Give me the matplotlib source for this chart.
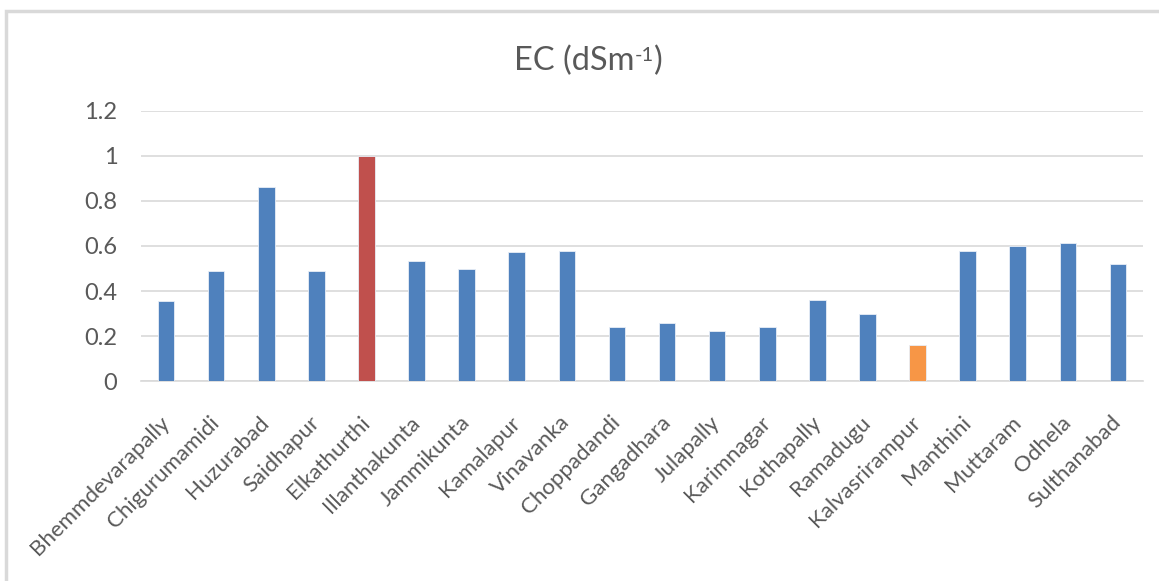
import numpy as np
import matplotlib.pyplot as plt
import matplotlib.transforms as mtransforms
from matplotlib.patches import Rectangle

# EC values for each mandal
mandals = ['Bhemmdevarapally', 'Chigurumamidi', 'Huzurabad', 'Saidhapur', 'Elkathurthi',
           'Illanthakunta', 'Jammikunta', 'Kamalapur', 'Vinavanka', 'Choppadandi',
           'Gangadhara', 'Julapally', 'Karimnagar', 'Kothapally', 'Ramadugu',
           'Kalvasrirampur', 'Manthini', 'Muttaram', 'Odhela', 'Sulthanabad']
ec = [0.355, 0.49, 0.86, 0.49, 1.0,
      0.535, 0.50, 0.575, 0.58, 0.24,
      0.257, 0.225, 0.24, 0.36, 0.297,
      0.162, 0.58, 0.60, 0.615, 0.52]
yticks = [0, 0.2, 0.4, 0.6, 0.8, 1, 1.2]
ytick_labels = ['0', '0.2', '0.4', '0.6', '0.8', '1', '1.2']

BLUE = '#4F81BD'
RED = '#C0504D'
ORANGE = '#F79646'
GRID = '#D9D9D9'
TEXT = '#595959'

# highest value in red, lowest in orange
colors = [BLUE] * len(ec)
colors[int(np.argmax(ec))] = RED
colors[int(np.argmin(ec))] = ORANGE

plt.rcParams['font.family'] = ['Lato', 'DejaVu Sans']

W, H = 1159, 581
fig = plt.figure(figsize=(W / 100, H / 100), dpi=100)
fig.patch.set_facecolor('white')

# chart border (top and left edges visible)
fig.add_artist(Rectangle((6 / W, -0.1), 1.2, (H - 11) / H + 0.1,
                         transform=fig.transFigure, fill=False,
                         edgecolor='#D9D9D9', linewidth=2.5))

ax = fig.add_axes([141 / W, 1 - 381.3 / H, 1002 / W, 270.6 / H])
x = np.arange(len(mandals))
ax.bar(x, ec, width=0.33, color=colors, edgecolor='#E8EEF7', linewidth=0.6, zorder=3)

ax.set_xlim(-0.5, len(mandals) - 0.5)
ax.set_ylim(0, 1.2)
ax.set_yticks(yticks)
ax.set_yticklabels(ytick_labels)
ax.yaxis.grid(True, color=GRID, linewidth=1.2, zorder=0)
ax.set_axisbelow(True)

for side in ['top', 'right', 'left']:
    ax.spines[side].set_visible(False)
ax.spines['bottom'].set_color(GRID)
ax.spines['bottom'].set_linewidth(1.2)

ax.tick_params(axis='y', length=0, pad=17, labelsize=17, labelcolor=TEXT)
ax.tick_params(axis='x', length=0, pad=0, labelsize=16, labelcolor=TEXT)

ax.set_xticks(x)
ax.set_xticklabels(mandals, rotation=45, ha='right', va='center', rotation_mode='anchor')
offset = mtransforms.ScaledTranslation(0, -38 / 100, fig.dpi_scale_trans)
for lbl in ax.get_xticklabels():
    lbl.set_transform(lbl.get_transform() + offset)

# title with a raised "-1"
title_size = 23.5
renderer = fig.canvas.get_renderer()
parts = [('EC (dSm', title_size, 0), ('-1', title_size * 0.62, 9), (')', title_size, 0)]
texts = []
for s, size, rise in parts:
    t = fig.text(0, 0, s, fontsize=size, color=TEXT, ha='left', va='baseline')
    texts.append((t, rise))
widths = [t.get_window_extent(renderer).width for t, _ in texts]
x0 = 588 - sum(widths) / 2
baseline = 70
for (t, rise), w in zip(texts, widths):
    t.set_position((x0 / W, 1 - (baseline - rise) / H))
    x0 += w

fig.savefig('out.png', dpi=100)
